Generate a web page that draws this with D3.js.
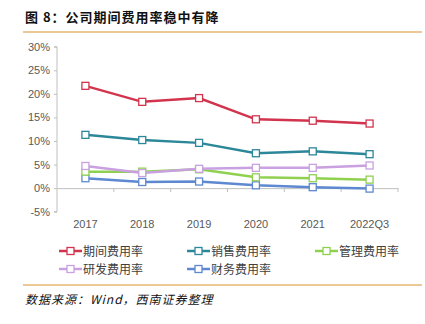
<!DOCTYPE html>
<html>
<head>
<meta charset="utf-8">
<script src="https://cdn.jsdelivr.net/npm/d3@7"></script>
<style>
  body { margin: 0; background: #fff; }
  svg { font-family: "Noto Sans CJK SC", "Liberation Sans", sans-serif; }
</style>
</head>
<body>
<svg id="chart" width="425" height="324"></svg>
<script>
// data (percent)
const years = ["2017", "2018", "2019", "2020", "2021", "2022Q3"];
const periodRate = [21.7, 18.3, 19.1, 14.6, 14.3, 13.7];
const salesRate = [11.3, 10.2, 9.6, 7.4, 7.8, 7.2];
const mgmtRate = [3.5, 3.5, 4.0, 2.3, 2.1, 1.8];
const rdRate = [4.7, 3.2, 4.1, 4.3, 4.3, 4.8];
const finRate = [2.1, 1.3, 1.4, 0.6, 0.2, -0.1];
const seriesNames = ["期间费用率", "销售费用率", "管理费用率", "研发费用率", "财务费用率"];
const yTicks = [-5, 0, 5, 10, 15, 20, 25, 30];

const colors = ["#D2344E", "#2C8799", "#8FD14F", "#C9A0E0", "#5E88D0"];
const series = [periodRate, salesRate, mgmtRate, rdRate, finRate].map((v, i) => ({
    name: seriesNames[i], values: v, color: colors[i]
}));

const svg = d3.select("#chart");

// title + rules
svg.append("text")
    .attr("x", 25).attr("y", 22)
    .attr("font-size", 13).attr("font-weight", "bold")
    .attr("letter-spacing", 1).attr("fill", "#111")
    .text("图 8：公司期间费用率稳中有降");
svg.append("line").attr("x1", 23).attr("x2", 422).attr("y1", 32).attr("y2", 32)
    .attr("stroke", "#D9912E").attr("stroke-width", 1);
svg.append("line").attr("x1", 23).attr("x2", 422).attr("y1", 285).attr("y2", 285)
    .attr("stroke", "#D9912E").attr("stroke-width", 1);
svg.append("text")
    .attr("x", 25).attr("y", 304)
    .attr("font-size", 12).attr("font-style", "italic").attr("fill", "#111")
    .attr("letter-spacing", 1)
    .text("数据来源：Wind，西南证券整理");

const x = d3.scaleBand().domain(years).range([57, 398]);
const y = d3.scaleLinear().domain([-5, 30]).range([211.7, 46.7]);

// y axis
const yAxis = svg.append("g").attr("transform", "translate(57,0)")
    .call(d3.axisLeft(y).tickValues(yTicks).tickSize(3).tickFormat(d => d + "%"));
yAxis.select(".domain").attr("stroke", "#BFBFBF").attr("d", `M-3,${y(30)}H0V${y(-5)}H-3`);
yAxis.selectAll(".tick line").attr("stroke", "#BFBFBF");
yAxis.selectAll(".tick text").attr("fill", "#595959").attr("font-size", 11)
    .attr("font-family", "Liberation Sans, Arial, sans-serif").attr("x", -7);

// x axis at 0%
const xAxis = svg.append("g").attr("transform", `translate(0,${y(0)})`)
    .call(d3.axisBottom(x).tickSize(0).tickPadding(0));
xAxis.select(".domain").attr("stroke", "#BFBFBF");
xAxis.selectAll(".tick text").remove();
svg.append("g").selectAll("line")
    .data(years)
    .join("line")
    .attr("x1", d => x(d) + x.bandwidth()).attr("x2", d => x(d) + x.bandwidth())
    .attr("y1", y(0)).attr("y2", y(0) + 4)
    .attr("stroke", "#BFBFBF");
svg.append("g").selectAll("text")
    .data(years)
    .join("text")
    .attr("x", d => x(d) + x.bandwidth() / 2)
    .attr("y", 228)
    .attr("text-anchor", "middle")
    .attr("font-size", 11).attr("fill", "#595959")
    .attr("font-family", "Liberation Sans, Arial, sans-serif")
    .text(d => d);

const cx = i => x(years[i]) + x.bandwidth() / 2;
const line = d3.line().x((d, i) => cx(i)).y(d => y(d));

// draw back to front so red ends on top
const order = [4, 2, 3, 1, 0];
order.forEach(k => {
    const s = series[k];
    const g = svg.append("g");
    g.append("path")
        .attr("d", line(s.values))
        .attr("fill", "none")
        .attr("stroke", s.color)
        .attr("stroke-width", 2.5);
    g.selectAll("rect")
        .data(s.values)
        .join("rect")
        .attr("x", (d, i) => cx(i) - 3.5)
        .attr("y", d => y(d) - 3.5)
        .attr("width", 7).attr("height", 7)
        .attr("fill", "#fff")
        .attr("stroke", s.color)
        .attr("stroke-width", 1.3);
});

// legend
const legendPos = [[59, 251], [187, 251], [315, 251], [59, 269], [187, 269]];
series.forEach((s, i) => {
    const [lx, ly] = legendPos[i];
    const g = svg.append("g").attr("transform", `translate(${lx},${ly})`);
    g.append("line").attr("x1", 0).attr("x2", 23).attr("y1", 0).attr("y2", 0)
        .attr("stroke", s.color).attr("stroke-width", 2.5);
    g.append("rect").attr("x", 8).attr("y", -3.5).attr("width", 7).attr("height", 7)
        .attr("fill", "#fff").attr("stroke", s.color).attr("stroke-width", 1.3);
    g.append("text").attr("x", 24).attr("y", 4.5)
        .attr("font-size", 12).attr("fill", "#404040")
        .text(s.name);
});
</script>
</body>
</html>
